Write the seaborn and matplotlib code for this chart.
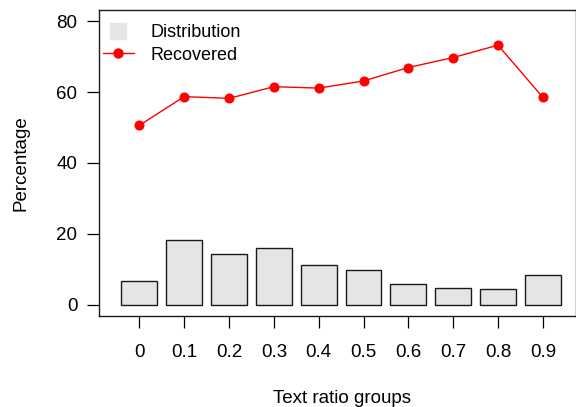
import numpy as np
import pandas as pd
import matplotlib
matplotlib.use("Agg")
import matplotlib.pyplot as plt
import seaborn as sns
from matplotlib.lines import Line2D

groups = ["0", "0.1", "0.2", "0.3", "0.4", "0.5", "0.6", "0.7", "0.8", "0.9"]
distribution = [6.9, 18.3, 14.3, 16.1, 11.4, 9.8, 5.9, 4.9, 4.5, 8.5]
recovered = [50.6, 58.7, 58.2, 61.5, 61.1, 63.1, 66.9, 69.7, 73.2, 58.5]
y_ticks = [0, 20, 40, 60, 80]

sns.set_style("ticks")
plt.rcParams["font.family"] = ["Liberation Sans", "DejaVu Sans"]
plt.rcParams["text.color"] = "black"
plt.rcParams["axes.labelcolor"] = "black"
plt.rcParams["xtick.color"] = "black"
plt.rcParams["ytick.color"] = "black"

df = pd.DataFrame({"group": groups, "dist": distribution, "rec": recovered})

fig = plt.figure(figsize=(5.76, 4.07), dpi=100)
ax = fig.add_axes([99 / 576, 1 - 316 / 407, 477 / 576, 306 / 407])

sns.barplot(data=df, x="group", y="dist", order=groups, color="#E5E5E5",
            saturation=1, edgecolor="#1a1a1a", linewidth=1.0, width=0.8, ax=ax)
sns.pointplot(data=df, x="group", y="rec", order=groups, color="red",
              markers="o", linestyles="-", markersize=6.5, linewidth=1.0, ax=ax)

ax.set_xlim(-0.9, 9.74)
ax.set_ylim(-3.1, 83.1)
ax.set_yticks(y_ticks)
ax.set_yticklabels([str(v) for v in y_ticks])
ax.tick_params(axis="both", labelsize=13.5, length=8.5, width=0.9, direction="out")
ax.tick_params(axis="y", pad=7)
ax.tick_params(axis="x", pad=12)
for s in ax.spines.values():
    s.set_linewidth(1.0)
    s.set_color("#1a1a1a")

ax.set_xlabel("Text ratio groups", fontsize=13.5)
ax.set_ylabel("Percentage", fontsize=13.5)
ax.xaxis.set_label_coords((342 - 99) / 477, -0.243)
ax.yaxis.set_label_coords(-0.146, 0.5)

handles = [
    Line2D([], [], marker="s", color="#E5E5E5", linestyle="none", markersize=11.5),
    Line2D([], [], marker="o", color="red", linestyle="-", linewidth=1.0, markersize=6.5),
]
ax.legend(handles, ["Distribution", "Recovered"], loc="upper left", frameon=False,
          fontsize=13, handlelength=1.75, handletextpad=0.9, labelspacing=0.3,
          bbox_to_anchor=(0.0, 0.965), borderaxespad=0.1, borderpad=0.1)

fig.savefig("out.png", dpi=100)
